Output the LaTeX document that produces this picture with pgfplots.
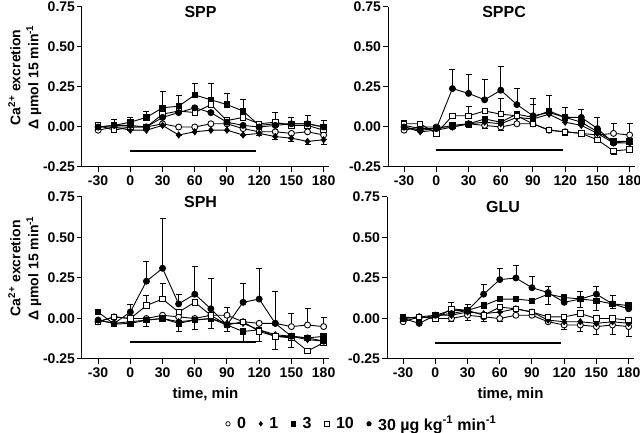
\documentclass[border=0pt]{standalone}
\usepackage{fontspec}
\setmainfont{Liberation Sans}
\usepackage{pgfplots}
\pgfplotsset{compat=1.18}
\pgfplotsset{
  panel/.style={
    scale only axis, width=247pt,
    xmin=-45, xmax=185, ymin=-0.25, ymax=0.75,
    axis lines*=left, clip=false,
    xtick={-30,0,30,60,90,120,150,180},
    xticklabels={-30,0,30,60,90,120,150,180},
    ytick={-0.25,0,0.25,0.5,0.75},
    yticklabels={-0.25,0.00,0.25,0.50,0.75},
    tick align=outside, major tick length=5pt,
    tick style={line width=1pt, black},
    axis line style={line width=1pt},
    tick label style={font=\bfseries\fontsize{14}{14}\selectfont},
    yticklabel style={xshift=1.5pt},
    label style={font=\bfseries\fontsize{14}{18}\selectfont},
    xlabel style={yshift=-3pt, font=\bfseries\fontsize{15}{15}\selectfont},
    title style={at={(0.48,0.93)}, anchor=center, font=\bfseries\fontsize{16}{16}\selectfont},
    every axis plot/.append style={black, line width=0.9pt},
    error bars/y dir=both, error bars/y explicit,
    error bars/error bar style={line width=0.7pt},
    error bars/error mark options={line width=0.7pt, mark size=3pt, rotate=90},
    table/x=x, table/y=y, table/y error plus=p, table/y error minus=m,
  },
  ylab/.style={ylabel={Ca\textsuperscript{2+} excretion\\Δ µmol 15 min\textsuperscript{-1}},
    ylabel style={align=center, at={(ticklabel cs:0.56)}}, ylabel shift=-5pt},
  s0/.style={mark=*, mark size=3pt, mark options={fill=white, solid}},
  s1/.style={mark=diamond*, mark size=3pt, mark options={fill=black}},
  s3/.style={mark=square*, mark size=2.7pt, mark options={fill=black}},
  s10/.style={mark=square*, mark size=2.7pt, mark options={fill=white}},
  s30/.style={mark=*, mark size=3pt, mark options={fill=black}},
  bar/.style={line width=1.6pt, forget plot, mark=none},
}
\begin{document}
\begin{tikzpicture}
\useasboundingbox (0,0) rectangle (640pt,433pt);
% ---------------- SPP
\begin{axis}[panel, height=160pt, at={(82pt,266pt)}, anchor=south west, title={SPP}, ylab]
\addplot[s0] table {
x y p m
-30 -0.02 0 0
-15 0.00 0 0
0 0.00 0 0
15 0.00 0 0
30 0.02 0 0
45 0.00 0 0
60 0.00 0 0
75 0.02 0 0
90 0.02 0 0
105 -0.01 0 0
120 -0.03 0 0.02
135 -0.03 0 0
150 -0.04 0 0.03
165 -0.03 0 0
180 -0.05 0 0.03
};
\addplot[s1] table {
x y p m
-30 0.00 0 0
-15 0.00 0 0
0 -0.02 0 0
15 -0.02 0 0
30 0.01 0 0
45 -0.05 0 0
60 -0.03 0 0
75 -0.02 0 0
90 -0.02 0 0
105 -0.05 0 0
120 -0.04 0 0
135 -0.06 0 0.02
150 -0.07 0 0.02
165 -0.09 0 0.02
180 -0.08 0 0.03
};
\addplot[s3] table {
x y p m
-30 0.00 0 0
-15 0.01 0.04 0
0 0.03 0.03 0
15 0.06 0.04 0
30 0.12 0.10 0
45 0.13 0.07 0
60 0.20 0.07 0
75 0.17 0.10 0
90 0.14 0.07 0
105 0.10 0.07 0
120 0.01 0.02 0
135 0.02 0.07 0
150 0.02 0.04 0
165 0.02 0.05 0
180 0.00 0.04 0
};
\addplot[s10] table {
x y p m
-30 0.01 0 0
-15 -0.02 0 0
0 0.00 0 0
15 0.00 0 0
30 0.08 0 0
45 0.10 0 0
60 0.09 0 0
75 0.14 0 0
90 0.04 0 0
105 0.06 0 0
120 0.02 0 0
135 0.03 0 0
150 0.01 0 0
165 0.01 0 0
180 -0.02 0 0
};
\addplot[s30] table {
x y p m
-30 0.00 0 0
-15 0.01 0 0
0 0.01 0 0
15 0.00 0 0
30 0.06 0 0
45 0.09 0 0
60 0.12 0 0
75 0.09 0 0
90 0.03 0 0
105 0.01 0 0
120 0.00 0 0
135 0.01 0 0
150 0.02 0 0
165 0.02 0 0
180 0.00 0 0
};
\addplot[bar] coordinates {(0,-0.15) (117,-0.15)};
\end{axis}
% ---------------- SPPC
\begin{axis}[panel, height=160pt, at={(388pt,266pt)}, anchor=south west, title={SPPC}, title style={at={(0.47,0.93)}}]
\addplot[s0] table {
x y p m
-30 -0.02 0 0
-15 0.00 0 0
0 0.00 0 0
15 0.00 0 0
30 0.02 0 0.02
45 0.01 0 0.02
60 0.00 0 0.02
75 0.02 0 0
90 0.02 0 0
105 -0.02 0 0
120 -0.03 0 0.02
135 -0.04 0 0.02
150 -0.05 0 0
165 -0.04 0.06 0
180 -0.05 0.07 0
};
\addplot[s1] table {
x y p m
-30 0.00 0 0
-15 -0.03 0 0
0 -0.02 0 0
15 0.00 0 0
30 0.02 0 0
45 0.03 0 0
60 0.02 0 0
75 0.06 0 0
90 0.05 0 0
105 0.08 0 0
120 0.03 0 0
135 0.01 0 0
150 -0.04 0 0
165 -0.10 0 0
180 -0.10 0 0
};
\addplot[s3] table {
x y p m
-30 0.01 0 0
-15 -0.01 0 0
0 -0.01 0 0
15 0.01 0 0
30 0.02 0 0
45 0.05 0 0
60 0.03 0 0
75 0.08 0 0
90 0.06 0 0
105 0.10 0 0
120 0.06 0 0
135 0.03 0 0
150 -0.03 0 0
165 -0.09 0 0
180 -0.09 0 0
};
\addplot[s10] table {
x y p m
-30 0.02 0 0
-15 0.02 0 0
0 -0.04 0 0
15 0.07 0 0
30 0.07 0.06 0
45 0.10 0 0
60 0.08 0.10 0
75 0.07 0 0
90 0.02 0.12 0
105 -0.02 0 0
120 -0.03 0 0
135 -0.04 0 0
150 -0.08 0 0
165 -0.15 0 0.02
180 -0.14 0 0.01
};
\addplot[s30] table {
x y p m
-30 0.00 0.04 0
-15 -0.02 0 0
0 -0.01 0 0
15 0.24 0.12 0
30 0.21 0.12 0
45 0.17 0.13 0
60 0.23 0.15 0
75 0.14 0.10 0
90 0.07 0.11 0
105 0.09 0.11 0
120 0.06 0.06 0
135 0.06 0.05 0
150 -0.01 0.07 0
165 -0.10 0 0
180 -0.09 0 0
};
\addplot[bar] coordinates {(0,-0.145) (118,-0.145)};
\end{axis}
% ---------------- SPH
\begin{axis}[panel, height=162pt, at={(82pt,74pt)}, anchor=south west, title={SPH}, ylab,
  xlabel={time, min},
  legend columns=5,
  legend style={at={(1.134,-0.40)}, anchor=center, draw=none, fill=none,
    font=\bfseries\fontsize{16}{16}\selectfont,
    /tikz/every odd column/.append style={column sep=5pt},
    /tikz/every even column/.append style={column sep=11pt}},
  legend image code/.code={\draw[#1, mark size=2.2pt, line width=0.7pt] plot coordinates {(0.12cm,0cm)};},
]
\addplot[s0] table {
x y p m
-30 -0.02 0 0
-15 0.01 0 0
0 0.00 0 0
15 0.00 0 0
30 0.02 0 0.04
45 0.01 0 0
60 0.00 0 0
75 0.02 0 0
90 0.02 0.05 0
105 -0.02 0 0
120 -0.03 0 0
135 -0.03 0 0
150 -0.05 0.08 0
165 -0.04 0.10 0
180 -0.05 0.06 0
};
\addlegendentry{0}
\addplot[s1] table {
x y p m
-30 -0.01 0 0
-15 -0.03 0 0
0 -0.02 0 0
15 -0.01 0 0
30 0.00 0 0
45 -0.02 0 0
60 -0.01 0 0
75 0.00 0 0
90 -0.03 0 0
105 -0.03 0 0
120 -0.07 0 0
135 -0.10 0 0
150 -0.11 0 0
165 -0.13 0 0
180 -0.14 0 0
};
\addlegendentry{1}
\addplot[s3] table {
x y p m
-30 0.04 0 0
-15 -0.035 0 0
0 -0.03 0 0
15 -0.01 0 0.04
30 0.00 0 0
45 -0.03 0 0.05
60 -0.01 0 0.06
75 0.00 0 0.06
90 -0.04 0 0.04
105 -0.08 0 0.06
120 -0.07 0 0.07
135 -0.11 0 0.08
150 -0.11 0 0.07
165 -0.12 0 0
180 -0.11 0 0
};
\addlegendentry{3}
\addplot[s10] table {
x y p m
-30 -0.02 0 0
-15 0.01 0 0
0 0.00 0 0
15 0.08 0.06 0
30 0.12 0.10 0
45 0.04 0 0
60 0.10 0 0
75 0.02 0 0
90 -0.04 0 0
105 -0.02 0 0
120 -0.08 0 0
135 -0.11 0 0
150 -0.12 0 0
165 -0.20 0 0
180 -0.15 0 0
};
\addlegendentry{10}
\addplot[s30] table {
x y p m
-30 -0.01 0 0
-15 -0.03 0 0
0 0.04 0.05 0
15 0.23 0.12 0
30 0.31 0.31 0
45 0.09 0.06 0
60 0.15 0.17 0
75 0.06 0.19 0
90 -0.04 0.11 0
105 0.10 0.12 0
120 0.12 0.19 0
135 -0.03 0.20 0
150 -0.11 0 0
165 -0.12 0 0
180 -0.14 0 0
};
\addlegendentry{30 µg kg\textsuperscript{-1} min\textsuperscript{-1}}
\addplot[bar] coordinates {(0,-0.145) (117,-0.145)};
\end{axis}
% ---------------- GLU
\begin{axis}[panel, height=162pt, at={(387pt,74pt)}, anchor=south west, title={GLU}, title style={at={(0.47,0.90)}},
  xlabel={time, min}]
\addplot[s0] table {
x y p m
-30 -0.02 0 0
-15 0.01 0 0
0 0.00 0 0
15 0.00 0 0.02
30 0.02 0 0.03
45 0.01 0 0.03
60 0.00 0 0.02
75 0.02 0 0
90 0.02 0 0
105 -0.02 0 0
120 -0.04 0 0.03
135 -0.04 0 0.04
150 -0.05 0 0.05
165 -0.04 0 0.06
180 -0.05 0 0.06
};
\addplot[s1] table {
x y p m
-30 0.00 0 0
-15 0.01 0 0
0 0.02 0 0
15 0.02 0 0
30 0.04 0 0
45 0.03 0 0
60 0.04 0 0
75 0.06 0 0
90 0.04 0 0
105 -0.01 0 0
120 -0.02 0 0
135 -0.02 0 0
150 -0.03 0 0
165 -0.02 0 0
180 -0.03 0 0
};
\addplot[s3] table {
x y p m
-30 0.01 0 0
-15 0.00 0 0
0 0.02 0 0
15 0.05 0 0
30 0.05 0 0
45 0.08 0 0
60 0.12 0 0
75 0.12 0 0
90 0.11 0 0
105 0.15 0 0.06
120 0.13 0 0
135 0.12 0 0.05
150 0.11 0 0.06
165 0.09 0 0.03
180 0.08 0 0
};
\addplot[s10] table {
x y p m
-30 0.00 0 0
-15 0.01 0 0
0 0.00 0 0
15 0.06 0.04 0
30 0.05 0.04 0
45 0.02 0 0
60 0.07 0 0
75 0.06 0 0
90 0.04 0 0
105 0.01 0 0
120 0.01 0 0
135 0.03 0 0
150 0.00 0 0
165 0.00 0 0
180 -0.01 0 0
};
\addplot[s30] table {
x y p m
-30 0.00 0 0
-15 -0.03 0 0
0 0.02 0 0
15 0.03 0 0
30 0.05 0 0
45 0.15 0.06 0
60 0.24 0.07 0
75 0.25 0.08 0
90 0.19 0.07 0
105 0.16 0.04 0
120 0.10 0.03 0
135 0.12 0.05 0
150 0.15 0.05 0
165 0.09 0.05 0
180 0.06 0.03 0
};
\addplot[bar] coordinates {(0,-0.15) (117,-0.15)};
\end{axis}
\end{tikzpicture}
\end{document}
